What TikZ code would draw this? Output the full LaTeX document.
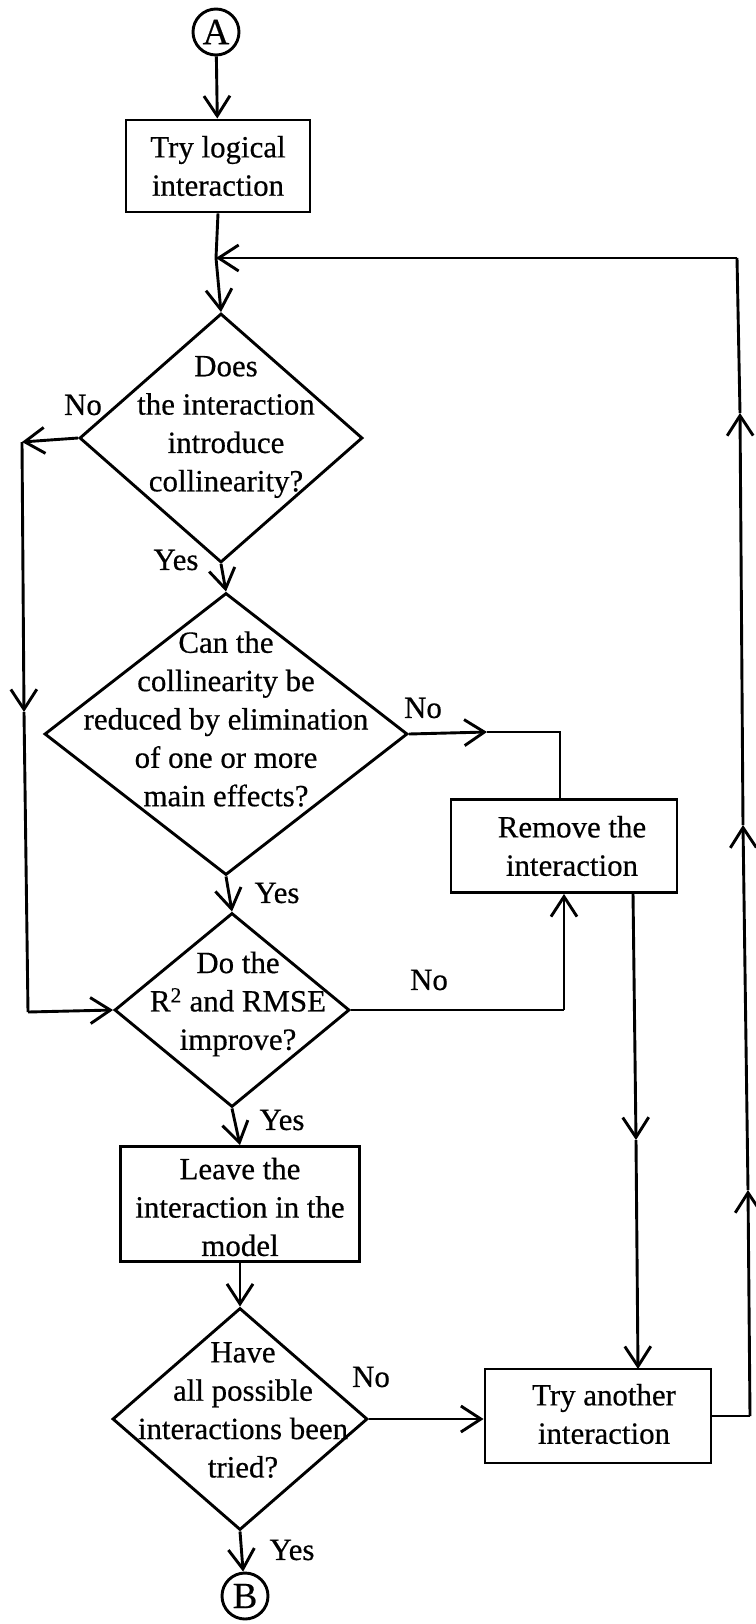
\documentclass[tikz,border=0pt]{standalone}
\usepackage{fontspec}
\setmainfont[FakeBold=0.5]{Liberation Serif}
\usetikzlibrary{shapes.geometric,arrows.meta}
\begin{document}
\begin{tikzpicture}[x=1bp,y=-1bp,
  every node/.style={font=\fontsize{31}{38.5}\selectfont},
  flow/.style={line width=2.9bp},
  tip/.style={flow,-{Straight Barb[length=20bp,width=26bp,line width=2.9bp]}},
  proc/.style={draw,flow,rectangle,inner sep=0},
  decision/.style={draw,flow,diamond,inner sep=0},
  qtext/.style={align=center,inner sep=0},
  conn/.style={draw,flow,circle,inner sep=0,minimum size=46bp,
    font=\fontsize{37}{40}\selectfont},
  answer/.style={inner sep=0}]
\fill[white] (0,0) rectangle (756,1624);
\useasboundingbox (0,0) rectangle (756,1624);

% connectors at the ends
\node[conn] (A) at (216,32) {A};
\node[conn] (B) at (245,1596) {B};

% process boxes
\node[proc,minimum width=184bp,minimum height=92bp] (try1) at (218,166) {};
\node[qtext] (try1t) at (218,166) {Try logical\\interaction};
\node[proc,minimum width=226bp,minimum height=93bp] (rem) at (564,846) {};
\node[qtext] (remt) at (572,846) {Remove the\\interaction};
\node[proc,minimum width=239bp,minimum height=115bp] (leave) at (240,1204) {};
\node[qtext] (leavet) at (240,1207) {Leave the\\interaction in the\\model};
\node[proc,minimum width=226bp,minimum height=94bp] (other) at (598,1416) {};
\node[qtext] (othert) at (604,1414) {Try another\\interaction};

% decisions
\node[decision,minimum width=283bp,minimum height=249bp] (d1) at (221,438) {};
\node[qtext] (d1t) at (226,427) {Does\\the interaction\\introduce\\collinearity?};
\node[decision,minimum width=363bp,minimum height=282bp] (d2) at (226,734) {};
\node[qtext] (d2t) at (226,719) {Can the\\collinearity be\\reduced by elimination\\of one or more\\main effects?};
\node[decision,minimum width=235bp,minimum height=194bp] (d3) at (232,1010) {};
\node[qtext] (d3t) at (238,1004) {Do the\\R\textsuperscript{2} and RMSE\\improve?};
\node[decision,minimum width=255bp,minimum height=222bp] (d4) at (240,1419) {};
\node[qtext] (d4t) at (243,1410) {Have\\all possible\\interactions been\\tried?};

% branch labels
\node[answer] (no1) at (83,405) {No};
\node[answer] (yes1) at (176,560) {Yes};
\node[answer] (no2) at (423,708) {No};
\node[answer] (yes2) at (277,893) {Yes};
\node[answer] (no3) at (429,980) {No};
\node[answer] (yes3) at (282,1120) {Yes};
\node[answer] (no4) at (371,1377) {No};
\node[answer] (yes4) at (292,1550) {Yes};

% routing points
\coordinate (j1) at (216,258);
\coordinate (L1) at (22,442);
\coordinate (L2) at (24,712);
\coordinate (L3) at (28,1012);
\coordinate (M1) at (487,732);
\coordinate (M2) at (560,732);
\coordinate (N1) at (564,1010);
\coordinate (P1) at (633,892.5);
\coordinate (P2) at (636,1140);
\coordinate (P3) at (638,1369);
\coordinate (R1) at (750,1416);
\coordinate (R2) at (748,1190);
\coordinate (R3) at (743,825);
\coordinate (R4) at (740,413);
\coordinate (R5) at (737,258);

% main column
\draw[tip] (A) -- (try1);
\draw[flow] (try1.south) -- (j1);
\draw[tip] (j1) -- (d1.north);
\draw[tip] (d1.south) -- (d2.north);
\draw[tip] (d2.south) -- (d3.north);
\draw[tip] (d3.south) -- (leave.north);
\draw[tip] (leave.south) -- (d4.north);
\draw[tip] (d4.south) -- (B);

% no-collinearity bypass on the left
\draw[tip] (d1.west) -- (L1);
\draw[tip] (L1) -- (L2);
\draw[flow] (L2) -- (L3);
\draw[tip] (L3) -- (d3.west);

% removal branch
\draw[tip] (d2.east) -- (M1);
\draw[flow] (M1) -- (M2) -- (M2 |- rem.north);
\draw[flow] (d3.east) -- (N1);
\draw[tip] (N1) -- (N1 |- rem.south);
\draw[tip] (P1) -- (P2);
\draw[tip] (P2) -- (P3);

% next interaction loop
\draw[tip] (d4.east) -- (d4.east -| other.west);
\draw[flow] (other.east |- R1) -- (R1);
\draw[tip] (R1) -- (R2);
\draw[tip] (R2) -- (R3);
\draw[tip] (R3) -- (R4);
\draw[flow] (R4) -- (R5);
\draw[tip] (R5) -- (j1);
\end{tikzpicture}
\end{document}
